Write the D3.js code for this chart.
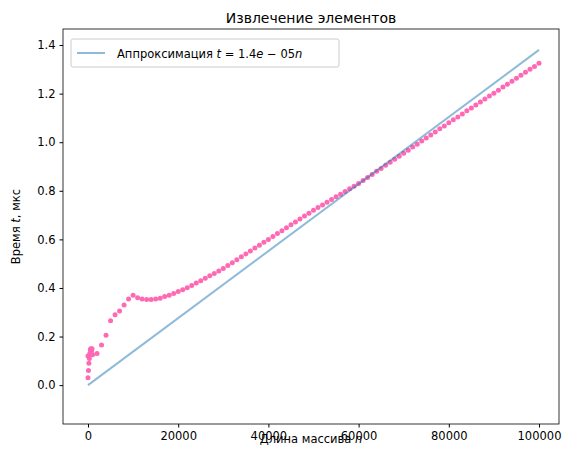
<!DOCTYPE html>
<html><head><meta charset="utf-8">
<script src="https://cdn.jsdelivr.net/npm/d3@7"></script>
<style>body{margin:0;background:#fff}text{font-family:"DejaVu Sans",sans-serif}</style>
</head><body>
<script>
// измеренные значения времени (мкс)
const smallN = [0,100,200,300,400,500,600,700,800,900];
const smallT = [0.03,0.06,0.09,0.11,0.13,0.145,0.15,0.13,0.14,0.15];
const bigN = d3.range(0, 100001, 1000);
const bigT = [0.12,0.125,0.13,0.165,0.205,0.265,0.29,0.305,0.33,0.355,
  0.37,0.36,0.355,0.352,0.352,0.355,0.358,0.365,0.37,0.377,
  0.385,0.393,0.401,0.41,0.42,0.43,0.44,0.45,0.46,0.47,
  0.48,0.492,0.504,0.516,0.528,0.54,0.552,0.564,0.576,0.588,
  0.60,0.612,0.624,0.636,0.648,0.66,0.672,0.684,0.696,0.708,
  0.72,0.731,0.742,0.753,0.764,0.775,0.786,0.797,0.808,0.819,
  0.83,0.842,0.855,0.867,0.88,0.892,0.905,0.917,0.93,0.942,
  0.955,0.967,0.98,0.992,1.005,1.017,1.03,1.042,1.055,1.067,
  1.08,1.092,1.104,1.116,1.129,1.141,1.153,1.165,1.178,1.19,
  1.202,1.214,1.227,1.239,1.251,1.263,1.276,1.288,1.30,1.312,1.325];
const slope = 1.38e-5;
const fitN = [0, 100000];
const xTicks = [0,20000,40000,60000,80000,100000];
const yTicks = [0,0.2,0.4,0.6,0.8,1.0,1.2,1.4];

const W = 574, H = 457, L = 63, R = 559, T = 29, B = 424;
const svg = d3.select("body").append("svg").attr("width", W).attr("height", H);
const x = d3.scaleLinear().domain([-5543, 104435]).range([L, R]);
const y = d3.scaleLinear().domain([-0.16, 1.466]).range([B, T]);

const pts = smallN.map((n, i) => [n, smallT[i]]).concat(bigN.map((n, i) => [n, bigT[i]]));
svg.selectAll("circle").data(pts).enter().append("circle")
  .attr("cx", d => x(d[0])).attr("cy", d => y(d[1])).attr("r", 2.5)
  .attr("fill", "#ff69b4");

svg.append("path")
  .attr("d", d3.line().x(n => x(n)).y(n => y(slope * n))(fitN))
  .attr("stroke", "#1f77b4").attr("stroke-opacity", 0.5).attr("stroke-width", 2).attr("fill", "none");

svg.append("rect").attr("x", L).attr("y", T).attr("width", R - L).attr("height", B - T)
  .attr("fill", "none").attr("stroke", "#000").attr("stroke-width", 0.8);

const xa = svg.append("g").attr("transform", `translate(0,${B})`)
  .call(d3.axisBottom(x).tickValues(xTicks).tickFormat(d3.format("d")).tickSizeOuter(0).tickSize(3.5).tickPadding(4));
const ya = svg.append("g").attr("transform", `translate(${L},0)`)
  .call(d3.axisLeft(y).tickValues(yTicks).tickFormat(d3.format(".1f")).tickSizeOuter(0).tickSize(3.5).tickPadding(4));
[xa, ya].forEach(a => {
  a.select(".domain").remove();
  a.selectAll("text").attr("font-size", 11.5).attr("fill", "#000").style("font-family", "DejaVu Sans");
});

svg.append("text").attr("x", (L + R) / 2).attr("y", 23).attr("text-anchor", "middle")
  .attr("font-size", 14).text("Извлечение элементов");
const xl = svg.append("text").attr("x", (L + R) / 2).attr("y", 443).attr("text-anchor", "middle").attr("font-size", 11.5);
xl.append("tspan").text("Длина массива ");
xl.append("tspan").attr("font-style", "italic").text("n");
const yl = svg.append("text").attr("transform", `translate(20,${(T + B) / 2}) rotate(-90)`).attr("text-anchor", "middle").attr("font-size", 11.5);
yl.append("tspan").text("Время ");
yl.append("tspan").attr("font-style", "italic").text("t");
yl.append("tspan").text(", мкс");

const lg = svg.append("g").attr("transform", `translate(71,39)`);
lg.append("rect").attr("width", 268).attr("height", 28).attr("rx", 2)
  .attr("fill", "#fff").attr("fill-opacity", 0.8).attr("stroke", "#ccc");
lg.append("line").attr("x1", 6).attr("x2", 34).attr("y1", 14).attr("y2", 14)
  .attr("stroke", "#1f77b4").attr("stroke-opacity", 0.5).attr("stroke-width", 2);
const lt = lg.append("text").attr("x", 46).attr("y", 18.5).attr("font-size", 11.5);
lt.append("tspan").text("Аппроксимация ");
lt.append("tspan").attr("font-style", "italic").text("t");
lt.append("tspan").text(" = 1.4");
lt.append("tspan").attr("font-style", "italic").text("e");
lt.append("tspan").text(" − 05");
lt.append("tspan").attr("font-style", "italic").text("n");
</script>
</body></html>
